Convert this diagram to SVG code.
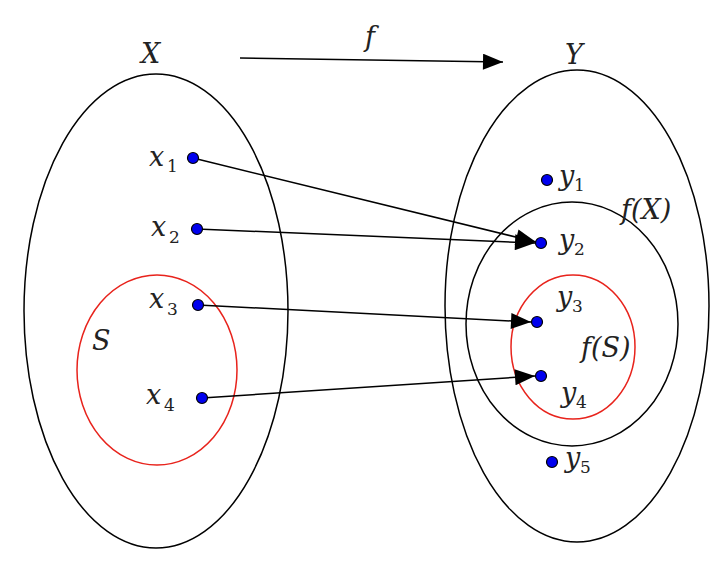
<svg xmlns="http://www.w3.org/2000/svg" width="728" height="564" viewBox="0 0 728 564">
<defs>
<marker id="ah" viewBox="0 0 20 16" refX="20" refY="8" markerWidth="21" markerHeight="16" markerUnits="userSpaceOnUse" orient="auto">
<path d="M0,0 L20,8 L0,16 Z" fill="#000"/>
</marker>
<style>
.set{fill:none;stroke:#000;stroke-width:1.5}
.sub{fill:none;stroke:#e8231c;stroke-width:1.5}
.pt{fill:#0000ee;stroke:#000;stroke-width:1.2}
.v{font-family:"DejaVu Serif","Liberation Serif",serif;font-style:italic;font-size:27px;fill:#222}
.s{font-family:"DejaVu Serif","Liberation Serif",serif;font-size:17px;fill:#222}
.c{stroke:#000;stroke-width:1.5;fill:none;marker-end:url(#ah)}
</style>
</defs>
<rect width="728" height="564" fill="#fff"/>
<g id="setX"><ellipse class="set" cx="156" cy="311" rx="132" ry="237"/><text class="v" x="141" y="63">X</text></g>
<g id="setS"><ellipse class="sub" cx="157" cy="370" rx="80" ry="95"/><text class="v" x="92" y="350">S</text></g>
<g id="setY"><ellipse class="set" cx="577" cy="306" rx="132" ry="236"/><text class="v" x="565" y="64">Y</text></g>
<g id="fX"><ellipse class="set" cx="572" cy="324" rx="106" ry="122"/><text class="v" x="621" y="219">f(X)</text></g>
<g id="fS"><ellipse class="sub" cx="573" cy="347" rx="62" ry="72"/><text class="v" x="581" y="357">f(S)</text></g>
<g id="connectors">
<line class="c" x1="240" y1="58" x2="503" y2="62"/>
<line class="c" x1="193" y1="158" x2="536" y2="242"/>
<line class="c" x1="197" y1="229" x2="535" y2="243"/>
<line class="c" x1="198" y1="305" x2="531" y2="322"/>
<line class="c" x1="202" y1="398" x2="535" y2="376"/>
</g>
<g id="flabel"><text class="v" x="365" y="46">f</text></g>
<g id="x1"><circle class="pt" cx="193" cy="158" r="5.5"/><text class="v" x="149" y="166">x</text><text class="s" x="167" y="172">1</text></g>
<g id="x2"><circle class="pt" cx="197" cy="229" r="5.5"/><text class="v" x="151" y="236">x</text><text class="s" x="169" y="243">2</text></g>
<g id="x3"><circle class="pt" cx="198" cy="305" r="5.5"/><text class="v" x="149" y="308">x</text><text class="s" x="167" y="315">3</text></g>
<g id="x4"><circle class="pt" cx="202" cy="398" r="5.5"/><text class="v" x="146" y="404">x</text><text class="s" x="164" y="411">4</text></g>
<g id="y1"><circle class="pt" cx="547" cy="180" r="5.5"/><text class="v" x="559" y="185">y</text><text class="s" x="574" y="191">1</text></g>
<g id="y2"><circle class="pt" cx="541" cy="243" r="5.5"/><text class="v" x="559" y="249">y</text><text class="s" x="574" y="255">2</text></g>
<g id="y3"><circle class="pt" cx="537" cy="322" r="5.5"/><text class="v" x="557" y="306">y</text><text class="s" x="572" y="312">3</text></g>
<g id="y4"><circle class="pt" cx="541" cy="376" r="5.5"/><text class="v" x="561" y="402">y</text><text class="s" x="576" y="408">4</text></g>
<g id="y5"><circle class="pt" cx="552" cy="462" r="5.5"/><text class="v" x="565" y="467">y</text><text class="s" x="580" y="473">5</text></g>
</svg>
